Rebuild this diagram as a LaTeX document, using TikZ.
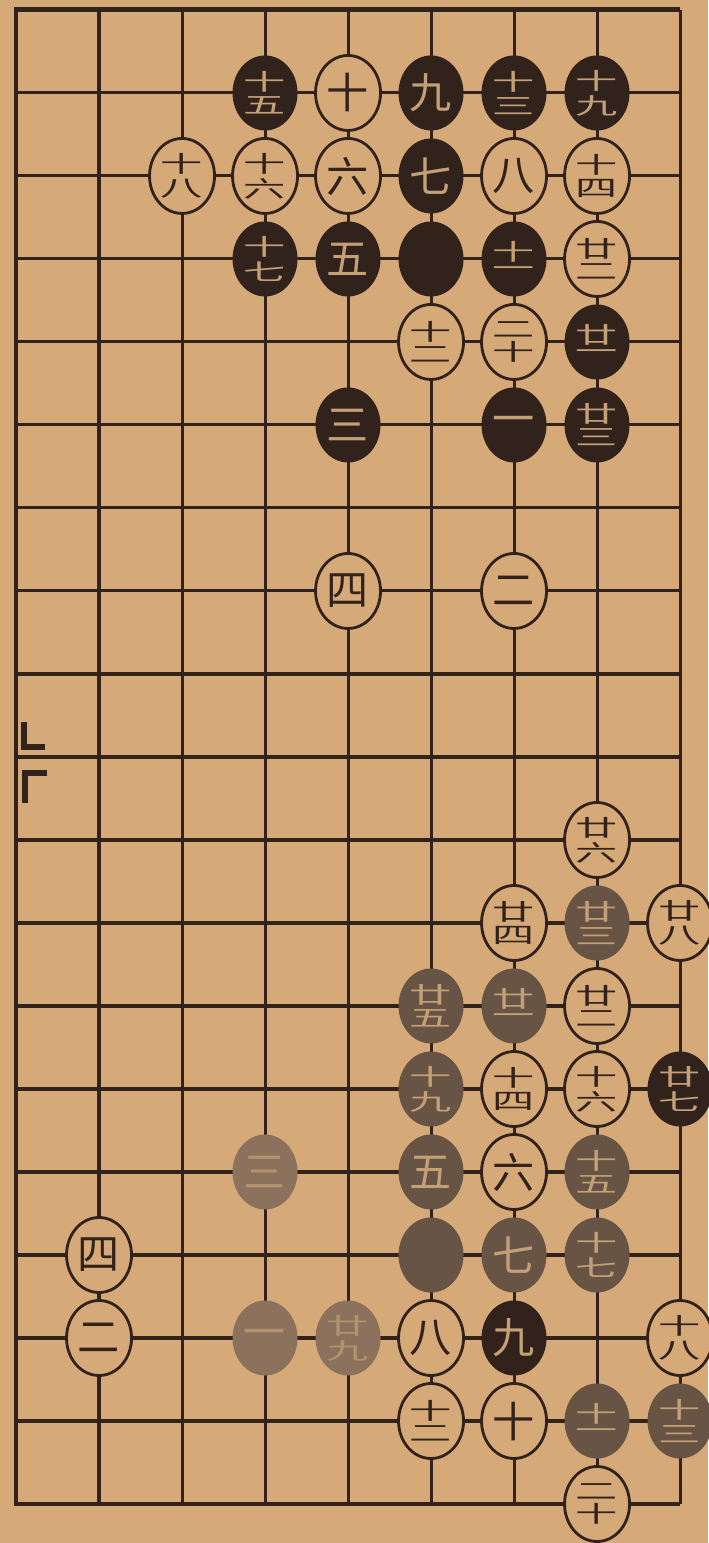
\documentclass[tikz,border=0pt]{standalone}
\usepackage{fontspec}
\usepackage{graphicx}
\usepackage{tikz}
\usetikzlibrary{shapes.geometric}
\newfontfamily\cjk{Noto Sans CJK SC}
\definecolor{paper}{RGB}{214,170,120}
\definecolor{ink}{RGB}{50,34,28}
\definecolor{worn}{RGB}{104,84,68}
\definecolor{pale}{RGB}{140,114,92}
\definecolor{numlight}{RGB}{196,160,118}
\newcommand{\two}[2]{\scalebox{1}[0.54]{\shortstack{#1\\[4pt]#2}}}

\begin{document}
\begin{tikzpicture}[
  x=2.49cm, y=-2.49cm,
  font=\cjk\fontsize{36}{36}\selectfont,
  line/.style={draw=ink, line width=2.6pt},
  edge/.style={draw=ink, line width=4.2pt, line join=miter},
  stone/.style={ellipse, inner sep=0pt, minimum width=1.95cm, minimum height=2.25cm},
  wst/.style={stone, draw=ink, line width=2.4pt, fill=paper, text=ink},
  bst/.style={stone, fill=ink, text=numlight},
  wbst/.style={stone, fill=worn, text=numlight},
  pbst/.style={stone, fill=pale, text=numlight!70!pale}
]
\fill[paper] (-0.193,-0.120) rectangle (8.337,18.47);
\useasboundingbox (-0.193,-0.120) rectangle (8.337,18.47);
% board
\foreach \r in {1,...,17} \draw[line] (0,\r) -- (8,\r);
\foreach \c in {1,...,8} \draw[line] (\c,0) -- (\c,18);
\draw[edge] (8,0) -- (0,0) -- (0,18) -- (8,18);
% centre marks
\draw[ink, line width=5pt] (0.096,8.578) -- (0.096,8.88) -- (0.349,8.88);
\draw[ink, line width=5pt] (0.108,9.554) -- (0.108,9.193) -- (0.373,9.193);
% upper figure
\node[bst] (ub15) at (3,1) {\two{十}{五}};
\node[wst] (uw10) at (4,1) {十};
\node[bst] (ub9) at (5,1) {九};
\node[bst] (ub13) at (6,1) {\two{十}{三}};
\node[bst] (ub19) at (7,1) {\two{十}{九}};
\node[wst] (uw18) at (2,2) {\two{十}{八}};
\node[wst] (uw16) at (3,2) {\two{十}{六}};
\node[wst] (uw6) at (4,2) {六};
\node[bst] (ub7) at (5,2) {七};
\node[wst] (uw8) at (6,2) {八};
\node[wst] (uw14) at (7,2) {\two{十}{四}};
\node[bst] (ub17) at (3,3) {\two{十}{七}};
\node[bst] (ub5) at (4,3) {五};
\node[bst] (ubx) at (5,3) {};
\node[bst] (ub11) at (6,3) {\two{十}{一}};
\node[wst] (uw22) at (7,3) {\two{廿}{二}};
\node[wst] (uw12) at (5,4) {\two{十}{二}};
\node[wst] (uw20) at (6,4) {\two{二}{十}};
\node[bst] (ub21) at (7,4) {\two{廿}{一}};
\node[bst] (ub3) at (4,5) {三};
\node[bst] (ub1) at (6,5) {一};
\node[bst] (ub23) at (7,5) {\two{廿}{三}};
\node[wst] (uw4) at (4,7) {四};
\node[wst] (uw2) at (6,7) {二};
% lower figure
\node[wst] (lw26) at (7,10) {\two{廿}{六}};
\node[wst] (lw24) at (6,11) {\two{廿}{四}};
\node[wbst] (lb23) at (7,11) {\two{廿}{三}};
\node[wst] (lw28) at (8,11) {\two{廿}{八}};
\node[wbst] (lb25) at (5,12) {\two{廿}{五}};
\node[wbst] (lb21) at (6,12) {\two{廿}{一}};
\node[wst] (lw22) at (7,12) {\two{廿}{二}};
\node[wbst] (lb19) at (5,13) {\two{十}{九}};
\node[wst] (lw14) at (6,13) {\two{十}{四}};
\node[wst] (lw16) at (7,13) {\two{十}{六}};
\node[bst] (lb27) at (8,13) {\two{廿}{七}};
\node[pbst] (lb3) at (3,14) {三};
\node[wbst] (lb5) at (5,14) {五};
\node[wst] (lw6) at (6,14) {六};
\node[wbst] (lb15) at (7,14) {\two{十}{五}};
\node[wst] (lw4) at (1,15) {四};
\node[wbst] (lbx) at (5,15) {};
\node[wbst] (lb7) at (6,15) {七};
\node[wbst] (lb17) at (7,15) {\two{十}{七}};
\node[wst] (lw2) at (1,16) {二};
\node[pbst] (lb1) at (3,16) {一};
\node[pbst] (lb29) at (4,16) {\two{廿}{九}};
\node[wst] (lw8) at (5,16) {八};
\node[bst] (lb9) at (6,16) {九};
\node[wst] (lw18) at (8,16) {\two{十}{八}};
\node[wst] (lw12) at (5,17) {\two{十}{二}};
\node[wst] (lw10) at (6,17) {十};
\node[wbst] (lb11) at (7,17) {\two{十}{一}};
\node[wbst] (lb13) at (8,17) {\two{十}{三}};
\node[wst] (lw20) at (7,18) {\two{二}{十}};
\end{tikzpicture}
\end{document}
